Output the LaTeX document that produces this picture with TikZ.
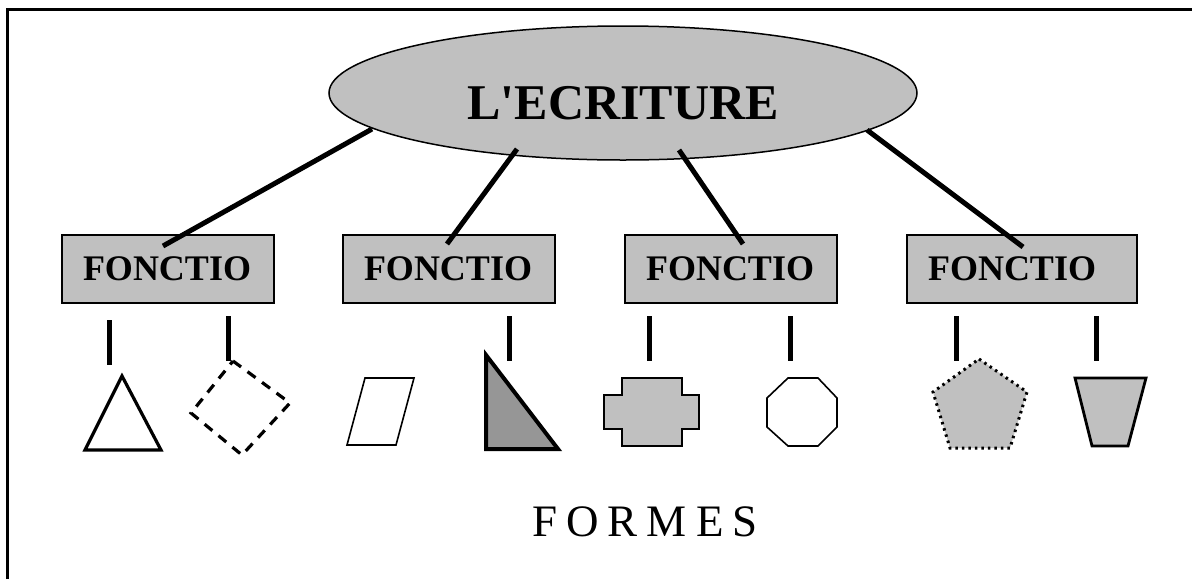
\documentclass[tikz,border=0pt]{standalone}
\usepackage{fontspec}
\setmainfont{Liberation Serif}
\usetikzlibrary{shapes.geometric}
\definecolor{lgray}{RGB}{192,192,192}
\definecolor{dgray}{RGB}{150,150,150}
\newcommand{\lsp}{\hspace{9pt}}
\begin{document}
\begin{tikzpicture}[x=1pt,y=-1pt,
  conn/.style={line width=5pt},
  tick/.style={line width=5pt},
  fbox/.style={draw=black,line width=1.5pt,fill=lgray,rectangle,minimum height=68pt,
     inner xsep=21pt,inner ysep=0pt,align=left,
     font=\fontsize{36pt}{40pt}\selectfont\bfseries},
  shapethin/.style={line width=1.6pt,line join=miter},
  shapethick/.style={line width=3.2pt,line join=miter}]
\useasboundingbox (0,0) rectangle (1192,579);
% frame
\draw[line width=3pt] (7,579) -- (7,9) -- (1192,9);
% top ellipse
\node[ellipse,draw=black,line width=1.5pt,fill=lgray,minimum width=588pt,minimum height=134pt,
  inner sep=0pt,text height=52pt,text depth=0pt,font=\fontsize{50pt}{54pt}\selectfont\bfseries] (top) at (623,93) {L\textquotesingle ECRITURE};
% boxes
\node[fbox,text width=170pt] (f1) at (168,269) {FONCTIO};
\node[fbox,text width=170pt] (f2) at (449,269) {FONCTIO};
\node[fbox,text width=170pt] (f3) at (731,269) {FONCTIO};
\node[fbox,text width=188pt] (f4) at (1022,269) {FONCTIO};
% connector ends
\coordinate (a1) at (372,129); \coordinate (b1) at (163,246);
\coordinate (a2) at (517,149); \coordinate (b2) at (447,244);
\coordinate (a3) at (679,150); \coordinate (b3) at (743,244);
\coordinate (a4) at (867,130); \coordinate (b4) at (1023,247);
\draw[conn] (a1) -- (b1);
\draw[conn] (a2) -- (b2);
\draw[conn] (a3) -- (b3);
\draw[conn] (a4) -- (b4);
% ticks
\foreach \x/\y in {109/320,228/316,509/316,649/316,790/316,956/316,1096/316}
  \draw[tick] (\x,\y) -- (\x,\y+45);
% triangle
\draw[shapethick,fill=white] (122,376) -- (161,450) -- (85,450) -- cycle;
% dashed diamond
\draw[shapethick,dash pattern=on 10pt off 8pt] (233,361) -- (290,403) -- (242,455) -- (191,413) -- cycle;
% parallelogram
\draw[shapethin,fill=white] (365,378) -- (414,378) -- (396,445) -- (347,445) -- cycle;
% right triangle
\draw[line width=4pt,fill=dgray] (486,355) -- (558,449) -- (486,449) -- cycle;
% cross
\draw[shapethin,fill=lgray] (622,378) -- (682,378) -- (682,395) -- (699,395) -- (699,429) -- (682,429)
  -- (682,446) -- (622,446) -- (622,429) -- (604,429) -- (604,395) -- (622,395) -- cycle;
% octagon
\draw[shapethin,fill=white] (788,378) -- (818,378) -- (837,398) -- (837,427) -- (818,446) -- (788,446)
  -- (767,427) -- (767,398) -- cycle;
% pentagon dotted
\draw[line width=3pt,fill=lgray,dash pattern=on 2.5pt off 4pt] (979,359) -- (1027,392) -- (1010,448) -- (950,448) -- (933,392) -- cycle;
% trapezoid
\draw[line width=2.8pt,fill=lgray] (1075,378) -- (1146,378) -- (1128,446) -- (1092,446) -- cycle;
% label
\node[anchor=base,font=\fontsize{45pt}{49pt}\selectfont,inner sep=0pt] (formes) at (645,536) {F\lsp O\lsp R\lsp M\lsp E\lsp S};
\end{tikzpicture}
\end{document}
